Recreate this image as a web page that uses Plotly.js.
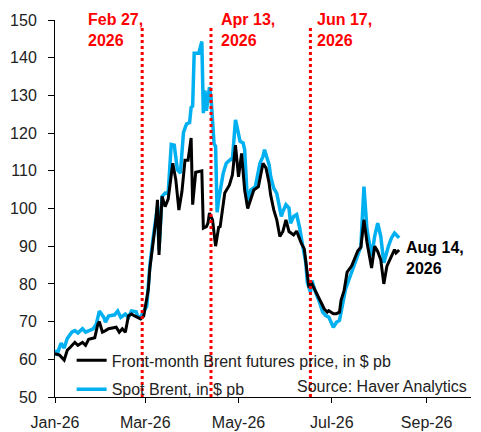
<!DOCTYPE html>
<html>
<head>
<meta charset="utf-8">
<script src="https://cdn.plot.ly/plotly-3.0.1.min.js"></script>
<style>html,body{margin:0;padding:0;background:#fff;}#chart{width:481px;height:432px;}</style>
</head>
<body>
<div id="chart"></div>
<script>
// Spot Brent (USD per barrel)
var spotDates = ['2026-01-01','2026-01-02','2026-01-05','2026-01-07','2026-01-09','2026-01-12','2026-01-14','2026-01-16','2026-01-19','2026-01-21','2026-01-26','2026-01-28','2026-01-30','2026-02-02','2026-02-03','2026-02-05','2026-02-09','2026-02-11','2026-02-13','2026-02-16','2026-02-18','2026-02-20','2026-02-23','2026-02-24','2026-02-26','2026-02-27','2026-03-02','2026-03-03','2026-03-04','2026-03-06','2026-03-08','2026-03-09','2026-03-10','2026-03-12','2026-03-14','2026-03-16','2026-03-18','2026-03-20','2026-03-22','2026-03-24','2026-03-26','2026-03-28','2026-03-30','2026-03-31','2026-04-01','2026-04-02','2026-04-05','2026-04-07','2026-04-08','2026-04-09','2026-04-10','2026-04-12','2026-04-13','2026-04-15','2026-04-16','2026-04-17','2026-04-18','2026-04-21','2026-04-23','2026-04-26','2026-04-27','2026-04-29','2026-04-30','2026-05-02','2026-05-04','2026-05-05','2026-05-07','2026-05-09','2026-05-12','2026-05-15','2026-05-17','2026-05-18','2026-05-21','2026-05-22','2026-05-24','2026-05-26','2026-05-29','2026-05-30','2026-06-01','2026-06-03','2026-06-04','2026-06-06','2026-06-08','2026-06-10','2026-06-12','2026-06-14','2026-06-15','2026-06-17','2026-06-18','2026-06-20','2026-06-23','2026-06-25','2026-06-27','2026-06-29','2026-07-02','2026-07-04','2026-07-06','2026-07-08','2026-07-10','2026-07-12','2026-07-14','2026-07-17','2026-07-20','2026-07-22','2026-07-24','2026-07-27','2026-07-29','2026-07-31','2026-08-02','2026-08-04','2026-08-07','2026-08-09','2026-08-11','2026-08-14'];
var spotValues = [62.5,61,64.3,63,65.5,67.2,67.6,67,68.1,67.2,68.1,69.3,72.8,71.1,69.8,71.5,71.8,72.8,71.1,72,71.1,72.8,72.6,71.5,71.1,72,74.1,79.4,84.7,91.7,97,100.5,89,103.2,104.1,104,117,116.8,110.3,109.4,120.2,122.4,122.8,126.8,127.2,141.2,141.2,144.3,125.3,131.3,125.9,132.2,129.6,117.1,116.5,99,102.3,109.4,112,113.1,113,123.5,121.7,117.8,117.4,115.6,100.5,104.9,105.8,112,113.8,115.6,111.6,108.5,105.4,104,97.9,99.2,101,100.1,96.1,97.9,98.4,94.8,90,85.6,80.4,77.8,80.9,78.2,75.1,72.5,71.6,71.2,68.5,69.8,70.3,74.3,78.7,80.9,83,86.5,90,105.8,94.4,87.3,92.6,96.1,92.6,85.6,90,92.2,93.5,92.2];

// Front-month Brent futures (USD per barrel)
var futDates = ['2026-01-01','2026-01-04','2026-01-07','2026-01-09','2026-01-11','2026-01-14','2026-01-16','2026-01-19','2026-01-21','2026-01-23','2026-01-27','2026-01-29','2026-01-30','2026-02-01','2026-02-03','2026-02-05','2026-02-10','2026-02-12','2026-02-14','2026-02-16','2026-02-18','2026-02-20','2026-02-22','2026-02-24','2026-02-26','2026-02-28','2026-03-03','2026-03-04','2026-03-06','2026-03-08','2026-03-09','2026-03-10','2026-03-12','2026-03-14','2026-03-16','2026-03-19','2026-03-21','2026-03-23','2026-03-25','2026-03-27','2026-03-29','2026-03-31','2026-04-01','2026-04-03','2026-04-07','2026-04-08','2026-04-10','2026-04-11','2026-04-12','2026-04-14','2026-04-16','2026-04-18','2026-04-19','2026-04-22','2026-04-25','2026-04-27','2026-04-29','2026-05-01','2026-05-03','2026-05-05','2026-05-07','2026-05-09','2026-05-11','2026-05-14','2026-05-17','2026-05-19','2026-05-21','2026-05-22','2026-05-24','2026-05-26','2026-05-28','2026-05-30','2026-06-01','2026-06-03','2026-06-06','2026-06-08','2026-06-11','2026-06-13','2026-06-15','2026-06-16','2026-06-18','2026-06-21','2026-06-24','2026-06-26','2026-06-28','2026-06-29','2026-07-02','2026-07-04','2026-07-06','2026-07-07','2026-07-09','2026-07-11','2026-07-14','2026-07-16','2026-07-18','2026-07-20','2026-07-22','2026-07-24','2026-07-27','2026-07-29','2026-07-31','2026-08-02','2026-08-04','2026-08-06','2026-08-09','2026-08-11','2026-08-12','2026-08-14'];
var futValues = [61.5,61.1,59.8,62.4,63.2,64.5,63.7,64.5,63.7,65.3,65.7,69.3,70,67.2,67.6,68.1,68.5,67.2,68.1,67.2,71.5,72,71.5,71.1,70.7,71.5,78.5,84,91,97,102.3,87.7,103.2,100.5,102.5,112,107.6,99.6,104.5,112.8,112.8,118.7,101,109.6,110,94.8,95.2,96.1,98.8,97,90,95,95.2,104.1,106.2,108.9,116.8,108.4,114.6,104.9,100,102.7,104.9,105.8,112,110.7,106.7,103.6,99.7,97,92.6,93.9,97,93.9,93,94,90.8,89.3,82.2,79.1,80,77.4,75.1,73.4,72.5,72.9,72.1,72.1,72.5,75.6,78.2,83.1,84.8,86.6,88.8,89.7,97,91,84.2,90,88.6,86.4,80,84.7,87.3,89.1,88.2,89];

var eventDates = ['2026-02-27','2026-04-13','2026-06-17'];
var eventLabels = ['Feb 27,<br>2026','Apr 13,<br>2026','Jun 17,<br>2026'];
var eventLabelX = ['2026-01-21','2026-04-18','2026-06-20'];
var tickDates = ['2026-01-01','2026-03-01','2026-05-01','2026-07-01','2026-09-01'];
var tickLabels = ['Jan-26','Mar-26','May-26','Jul-26','Sep-26'];
var seriesNames = ['Front-month Brent futures price, in $ pb','Spot Brent, in $ pb'];

var FONT = 'Liberation Sans, Arial, sans-serif';

var traces = [
  {x: spotDates, y: spotValues, type: 'scatter', mode: 'lines', name: seriesNames[1],
   line: {color: '#00B0F0', width: 3.5}, legendrank: 2, legendgroup: 'b'},
  {x: futDates, y: futValues, type: 'scatter', mode: 'lines', name: seriesNames[0],
   line: {color: '#000000', width: 3}, legendrank: 1, legendgroup: 'a'}
];

var shapes = eventDates.map(function(d){
  return {type: 'line', xref: 'x', yref: 'y', x0: d, x1: d, y0: 50, y1: 148,
          line: {color: '#FF0000', width: 3, dash: 'dot'}, layer: 'above'};
});

var annotations = eventDates.map(function(d, i){
  return {xref: 'x', yref: 'y', x: eventLabelX[i], y: 147.4, xanchor: 'left', yanchor: 'middle',
          text: '<b>' + eventLabels[i] + '</b>', showarrow: false, align: 'left',
          font: {family: FONT, size: 16, color: '#FF0000'}};
});
annotations.push({xref: 'x', yref: 'y', x: '2026-08-17', y: 86.8, xanchor: 'left', yanchor: 'middle',
  text: '<b>Aug 14,<br>2026</b>', showarrow: false, align: 'left',
  font: {family: FONT, size: 16, color: '#000000'}});
annotations.push({xref: 'paper', yref: 'y', x: 0.995, y: 52.8, xanchor: 'right', yanchor: 'middle',
  text: 'Source: Haver Analytics', showarrow: false,
  font: {family: FONT, size: 16, color: '#222222'}});

var layout = {
  width: 481, height: 432,
  margin: {l: 55, r: 10, t: 20, b: 35},
  paper_bgcolor: '#ffffff', plot_bgcolor: '#ffffff',
  font: {family: FONT, size: 16, color: '#222222'},
  showlegend: true,
  legend: {x: 0.04, y: 0.142, xanchor: 'left', yanchor: 'top', bgcolor: 'rgba(0,0,0,0)',
           font: {family: FONT, size: 16, color: '#222222'}, traceorder: 'grouped', tracegroupgap: 5},
  xaxis: {type: 'date', range: ['2026-01-01','2026-09-30'], tickmode: 'array',
          tickvals: tickDates, ticktext: tickLabels, showgrid: false, zeroline: false,
          showline: true, linecolor: '#000000', linewidth: 1, ticks: 'outside', ticklen: 5,
          tickcolor: '#000000', ticklabelstandoff: 6, tickfont: {family: FONT, size: 16, color: '#222222'}},
  yaxis: {range: [50, 150], dtick: 10, tick0: 50, showgrid: false, zeroline: false,
          showline: true, linecolor: '#000000', linewidth: 1, ticks: 'outside', ticklen: 6,
          tickcolor: '#000000', ticklabelstandoff: 8, tickfont: {family: FONT, size: 16, color: '#222222'}},
  shapes: shapes,
  annotations: annotations
};

Plotly.newPlot('chart', traces, layout, {staticPlot: true, displayModeBar: false});
</script>
</body>
</html>
